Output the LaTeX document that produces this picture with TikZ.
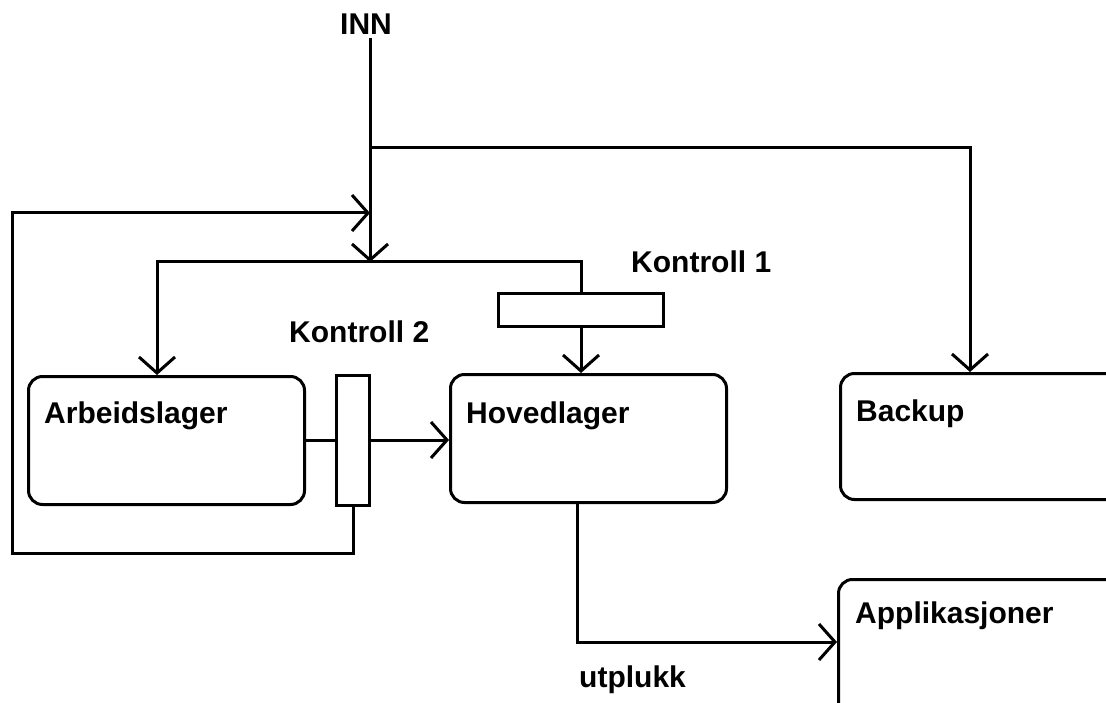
\documentclass[tikz,border=0pt]{standalone}
\usepackage{fontspec}
\setmainfont{Liberation Sans}
\usetikzlibrary{arrows.meta}
\tikzset{
  line/.style={line width=3pt, line cap=butt, line join=miter},
  arr/.style={line, -{Straight Barb[length=16pt,width=36pt,line width=3pt]}},
  box/.style={draw, line width=3pt, rounded corners=14pt, anchor=north west, inner sep=0pt},
  ctrl/.style={draw, line width=3pt, anchor=north west, inner sep=0pt},
  lbl/.style={inner sep=0pt, anchor=base west, font=\fontsize{30}{36}\selectfont\bfseries},
}
\begin{document}
\begin{tikzpicture}[x=1pt,y=-1pt]
\clip (0,0) rectangle (1106,703);
\fill[white] (0,0) rectangle (1106,703);
% boxes
\node[box, minimum width=276pt, minimum height=128pt] (arbeid) at (27,375) {};
\node[box, minimum width=276pt, minimum height=128pt] (hoved) at (449,373) {};
\node[box, minimum width=300pt, minimum height=126pt] (backup) at (839,372) {};
\node[box, minimum width=300pt, minimum height=180pt] (appl) at (837,578) {};
\node[ctrl, minimum width=165pt, minimum height=33pt] (k1) at (497,292) {};
\node[ctrl, minimum width=33pt, minimum height=130pt] (k2) at (335,374) {};
% labels
\node[lbl] (tinn) at (340,35) {INN};
\node[lbl] (tk1) at (631,273) {Kontroll 1};
\node[lbl] (tk2) at (289,342) {Kontroll 2};
\node[lbl] (tarb) at (44,423) {Arbeidslager};
\node[lbl] (thov) at (466,423) {Hovedlager};
\node[lbl] (tbak) at (856,421) {Backup};
\node[lbl] (tapp) at (855,623) {Applikasjoner};
\node[lbl] (tutp) at (579,687) {utplukk};
% junctions
\coordinate (jtop) at (370,38);
\coordinate (jb) at (370,148);
\coordinate (jf) at (370,213);
\coordinate (jm) at (370,262);
% connectors
\draw[arr] (jtop) -- (jm);
\draw[arr] (jb) -| ([xshift=131pt]backup.north west);
\draw[arr] (k2.south) -- ++(0,46) -| (12,213) -- (jf);
\draw[line] (jm) -| (k1.north);
\draw[arr] (jm) -| ([xshift=130pt]arbeid.north west);
\draw[arr] (k1.south) -- (k1.south |- hoved.north);
\draw[line] ([yshift=-65pt]arbeid.north east) -- ([yshift=-65pt]arbeid.north east -| k2.west);
\draw[arr] ([yshift=-65pt]arbeid.north east -| k2.east) -- ([yshift=-65pt]arbeid.north east -| hoved.west);
\draw[arr] ([xshift=128pt]hoved.south west) |- ([yshift=-64pt]appl.north west);
\end{tikzpicture}
\end{document}
